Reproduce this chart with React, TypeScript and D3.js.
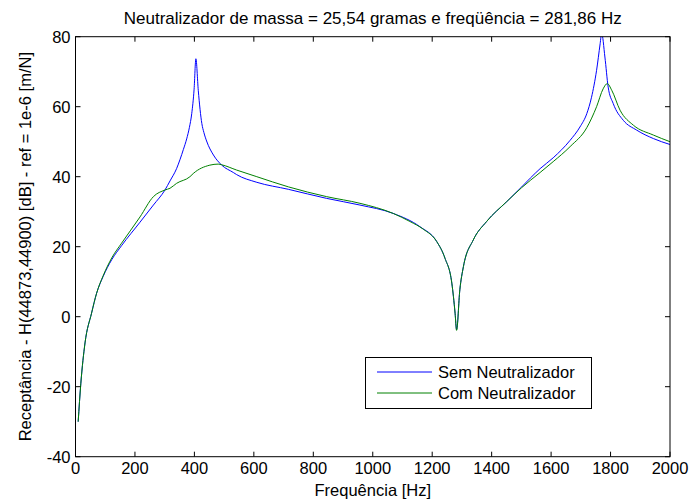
import React from "react";
import * as d3 from "d3";

const title = "Neutralizador de massa = 25,54 gramas e freqüência = 281,86 Hz";
const xLabel = "Frequência [Hz]";
const yLabel = "Receptância - H(44873,44900) [dB] - ref = 1e-6 [m/N]";
const seriesNames = ["Sem Neutralizador", "Com Neutralizador"];
const xTicks = [0, 200, 400, 600, 800, 1000, 1200, 1400, 1600, 1800, 2000];
const yTicks = [-40, -20, 0, 20, 40, 60, 80];

const semFreq = [9, 18, 32, 54, 71, 93, 122, 155, 217, 262, 301, 318, 340, 352, 363, 374, 383, 391, 399, 405, 413, 425, 432, 441, 464, 492, 531, 542, 610, 716, 845, 957, 1069, 1159, 1215, 1243, 1266, 1277, 1282, 1293, 1305, 1338, 1383, 1451, 1500, 1530, 1563, 1607, 1664, 1697, 1720, 1736, 1753, 1765, 1770, 1781, 1792, 1809, 1843, 1888, 1944, 2000];
const semDb = [-30, -19, -7.5, 1, 6.7, 11.5, 16.3, 20.3, 27, 31.9, 36.2, 38.8, 42.3, 45, 47.8, 50.8, 54, 58, 65, 73.7, 64.7, 55.2, 52.6, 50.2, 46.2, 43.3, 41.2, 40.6, 38.4, 36.4, 33.8, 31.9, 29.5, 25.7, 21.5, 16.7, 9.6, 1, -3.7, 7.7, 14.3, 21.9, 27.2, 32.9, 37, 39.6, 42.3, 45.4, 50.4, 54.2, 58, 62.7, 70.4, 78, 81, 74.2, 65.6, 60.9, 56.1, 53.3, 50.9, 49.2];

const comFreq = [9, 18, 32, 54, 71, 93, 122, 155, 217, 262, 301, 318, 340, 385, 396, 452, 480, 492, 542, 610, 716, 845, 957, 1069, 1125, 1170, 1215, 1243, 1266, 1277, 1282, 1293, 1305, 1338, 1383, 1451, 1500, 1563, 1607, 1664, 1720, 1753, 1775, 1789, 1804, 1832, 1877, 1944, 2000];
const comDb = [-30, -19, -7.5, 1, 6.7, 11.7, 16.8, 21, 28.5, 34.3, 36.2, 36.7, 38.1, 40, 40.9, 43.3, 43.6, 43.4, 41.9, 40, 37.1, 34.3, 32.4, 29.5, 27.2, 25, 21.5, 16.7, 9.6, 1, -3.9, 7.7, 14.3, 21.9, 27.2, 32.9, 36.8, 41.2, 44.3, 48.6, 54, 60, 65.1, 66.6, 64.7, 59, 54.7, 51.9, 50];

const W = 692;
const H = 503;
const L = 75.5;
const R = 670;
const T = 36.7;
const B = 456.7;
const FONT = "'Liberation Sans', Arial, Helvetica, sans-serif";
const FS = 16.5;

export default function App() {
  const x = d3.scaleLinear().domain([0, 2000]).range([L, R]);
  const y = d3.scaleLinear().domain([-40, 80]).range([B, T]);
  const line = d3
    .line<[number, number]>()
    .x((d) => x(d[0]))
    .y((d) => y(d[1]))
    .curve(d3.curveMonotoneX);
  const sem = semFreq.map((f, i) => [f, semDb[i]] as [number, number]);
  const com = comFreq.map((f, i) => [f, comDb[i]] as [number, number]);
  const tl = 5;
  return (
    <div style={{ position: "fixed", left: 0, top: 0, width: W, height: H, background: "#fff" }}>
      <svg width={W} height={H} style={{ display: "block" }} fontFamily={FONT}>
        <rect x={0} y={0} width={W} height={H} fill="#fff" />
        <defs>
          <clipPath id="plotclip">
            <rect x={L} y={T} width={R - L} height={B - T} />
          </clipPath>
        </defs>
        <g clipPath="url(#plotclip)">
          <path d={line(sem) || ""} fill="none" stroke="#0000ff" strokeWidth={1} />
          <path d={line(com) || ""} fill="none" stroke="#008000" strokeWidth={1} />
        </g>
        {xTicks.map((t) => (
          <g key={"xt" + t}>
            <line x1={x(t)} x2={x(t)} y1={B} y2={B - tl} stroke="#000" />
            <line x1={x(t)} x2={x(t)} y1={T} y2={T + tl} stroke="#000" />
            <text x={x(t)} y={B + 17} textAnchor="middle" fontSize={FS} fill="#000">
              {t}
            </text>
          </g>
        ))}
        {yTicks.map((t) => (
          <g key={"yt" + t}>
            <line x1={L} x2={L + tl} y1={y(t)} y2={y(t)} stroke="#000" />
            <line x1={R} x2={R - tl} y1={y(t)} y2={y(t)} stroke="#000" />
            <text x={L - 5} y={y(t) + 6} textAnchor="end" fontSize={FS} fill="#000">
              {t}
            </text>
          </g>
        ))}
        <rect x={L} y={T} width={R - L} height={B - T} fill="none" stroke="#000" strokeWidth={1} />
        <text x={(L + R) / 2} y={24} textAnchor="middle" fontSize={17} fill="#000">
          {title}
        </text>
        <text x={(L + R) / 2} y={496} textAnchor="middle" fontSize={FS} fill="#000">
          {xLabel}
        </text>
        <text
          transform={`translate(31, ${(T + B) / 2}) rotate(-90)`}
          textAnchor="middle"
          fontSize={FS}
          fill="#000"
        >
          {yLabel}
        </text>
        <g>
          <rect x={365.5} y={357.5} width={226} height={51} fill="#fff" stroke="#000" strokeWidth={1} />
          <line x1={377} x2={432} y1={372} y2={372} stroke="#0000ff" strokeWidth={1} />
          <line x1={377} x2={432} y1={393} y2={393} stroke="#008000" strokeWidth={1} />
          <text x={438} y={378} fontSize={FS} fill="#000">
            {seriesNames[0]}
          </text>
          <text x={438} y={399} fontSize={FS} fill="#000">
            {seriesNames[1]}
          </text>
        </g>
      </svg>
    </div>
  );
}
